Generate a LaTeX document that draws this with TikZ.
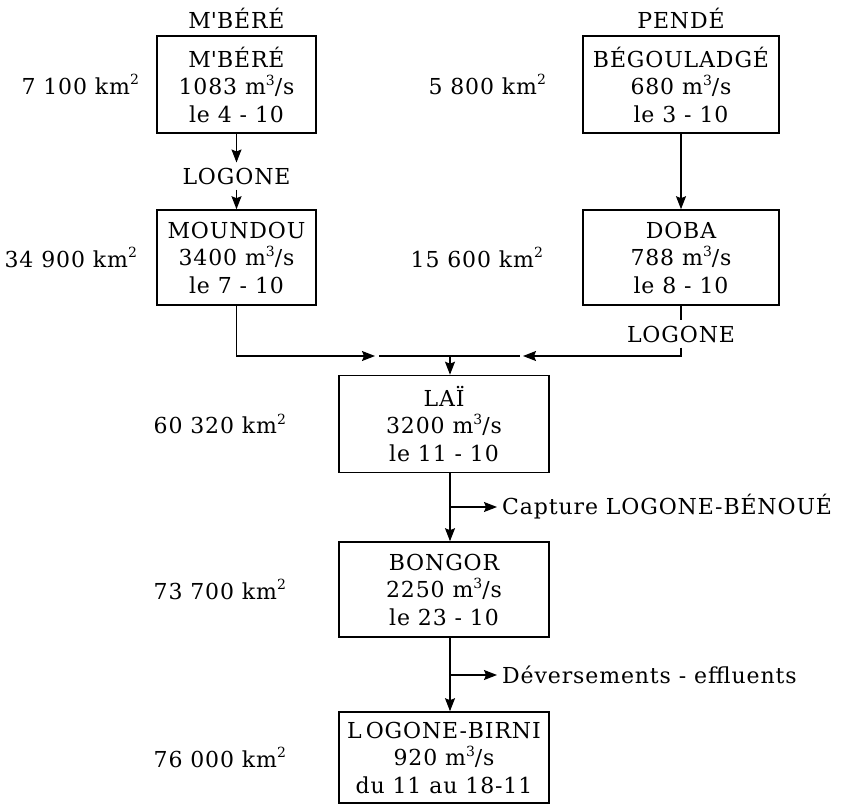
\documentclass[tikz,border=0pt]{standalone}
\usepackage{fontspec}
\setmainfont{DejaVu Serif}[LetterSpace=4]
\usepackage{tikz}
\usetikzlibrary{arrows.meta, positioning, calc}
\newcommand{\pw}[1]{\raisebox{0.42em}{\fontsize{14}{14}\selectfont #1}}
\tikzset{
    station/.style={rectangle, draw, line width=1.6pt, align=center, font=\fontsize{22}{27.5}\selectfont, inner sep=0pt},
    area/.style={font=\fontsize{22}{26}\selectfont, inner sep=0pt},
    river/.style={font=\fontsize{22}{26}\selectfont, inner sep=5pt},
    flow/.style={line width=1.2pt},
    arrow/.style={flow, -{Stealth[length=13pt, width=10pt, inset=2pt]}}
}

\begin{document}
\begin{tikzpicture}[x=1pt, y=-1pt]
    \useasboundingbox (0,0) rectangle (841,804);

    % Upper stations
    \node[river] (tmbere) at (236.5,18) {M\textquotesingle BÉRÉ};
    \node[river] (tpende) at (681,18) {PENDÉ};
    \node[station, minimum width=159pt, minimum height=97pt] (mbere) at (236.5,84.5) {M\textquotesingle BÉRÉ\\1083 m\pw{3}/s\\le 4 - 10};
    \node[station, minimum width=159pt, minimum height=95pt] (moundou) at (236.5,257.5) {MOUNDOU\\3400 m\pw{3}/s\\le 7 - 10};
    \node[station, minimum width=196pt, minimum height=97pt] (begou) at (681,84.5) {BÉGOULADGÉ\\680 m\pw{3}/s\\le 3 - 10};
    \node[station, minimum width=196pt, minimum height=95pt] (doba) at (681,257.5) {DOBA\\788 m\pw{3}/s\\le 8 - 10};

    % Lower stations
    \node[station, minimum width=210pt, minimum height=97pt] (lai) at (444,424) {LAÏ\\3200 m\pw{3}/s\\le 11 - 10};
    \node[station, minimum width=210pt, minimum height=95pt] (bongor) at (444,589.5) {BONGOR\\2250 m\pw{3}/s\\le 23 - 10};
    \node[station, minimum width=210pt, minimum height=91pt] (birni) at (444,757.5) {L\kern4pt OGONE-BIRNI\\920 m\pw{3}/s\\du 11 au 18-11};

    % Catchment areas
    \node[area, left=17pt of mbere] (ambere) {7 100 km\pw{2}};
    \node[area, left=19pt of moundou] (amoundou) {34 900 km\pw{2}};
    \node[area, left=36pt of begou] (abegou) {5 800 km\pw{2}};
    \node[area, left=39pt of doba] (adoba) {15 600 km\pw{2}};
    \node[area, left=52pt of lai] (alai) {60 320 km\pw{2}};
    \node[area, left=52pt of bongor] (abongor) {73 700 km\pw{2}};
    \node[area, left=52pt of birni] (abirni) {76 000 km\pw{2}};

    % River labels
    \node[river] (lgmbere) at (236.5,176) {LOGONE};
    \node[river] (lgdoba) at (681,334) {LOGONE};
    \node[river, anchor=west] (capture) at (497,507) {Capture LOGONE-BÉNOUÉ};
    \node[river, anchor=west] (effluent) at (497,675) {Déversements - effluents};

    % Junction
    \coordinate (lin) at (375,356);
    \coordinate (rin) at (523,356);
    \coordinate (jl) at (379,356);
    \coordinate (jr) at (520,356);
    \coordinate (trunk) at (450,356);
    \coordinate (capfork) at (450,507);
    \coordinate (efffork) at (450,675);

    % Connectors
    \draw[arrow] (mbere.south) -- (lgmbere.north);
    \draw[arrow] (lgmbere.south) -- (moundou.north);
    \draw[arrow] (begou.south) -- (doba.north);
    \draw[flow] (doba.south) -- (lgdoba.north);
    \draw[arrow] (moundou.south) |- (lin);
    \draw[arrow] (lgdoba.south) |- (rin);
    \draw[flow] (jl) -- (jr);
    \draw[arrow] (trunk) -- (trunk |- lai.north);
    \draw[arrow] (trunk |- lai.south) -- (trunk |- bongor.north);
    \draw[arrow] (capfork) -- (capture.west);
    \draw[arrow] (trunk |- bongor.south) -- (trunk |- birni.north);
    \draw[arrow] (efffork) -- (effluent.west);
\end{tikzpicture}
\end{document}
